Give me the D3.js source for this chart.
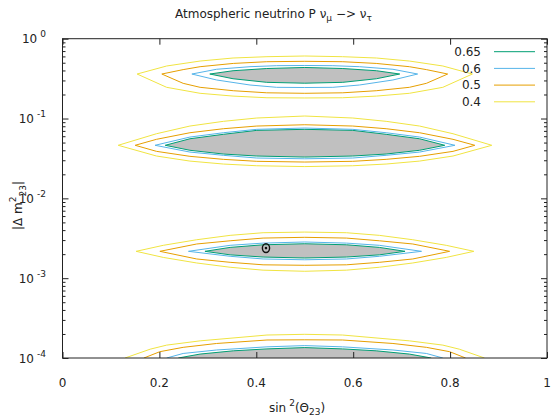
<!DOCTYPE html>
<html>
<head>
<meta charset="utf-8">
<title>Atmospheric neutrino P</title>
<script src="https://cdn.jsdelivr.net/npm/d3@7"></script>
<style>
body { margin: 0; background: #fff; }
svg { display: block; font-family: "DejaVu Sans", sans-serif; }
.axis path { display: none; }
.axis line { stroke: #222; }
</style>
</head>
<body>
<script>

// contour levels, as in the key
var levels = [0.65, 0.6, 0.5, 0.4];

// x ticks (sin^2 theta23) and y decades (|dm^2_23|)
var xTicks = [0, 0.2, 0.4, 0.6, 0.8, 1];
var xTickLabels = ["0", "0.2", "0.4", "0.6", "0.8", "1"];
var yTicks = [1e-4, 1e-3, 1e-2, 1e-1, 1];
var yTickExp = ["-4", "-3", "-2", "-1", "0"];

// contours: s = sin^2, upper / lower = dm^2 on each edge
var band1 = [
  {level: 0.65, s: [0.304, 0.352, 0.4215, 0.5, 0.5785, 0.648, 0.696],
   upper: [0.361, 0.397, 0.423, 0.436, 0.423, 0.397, 0.361],
   lower: [0.361, 0.315, 0.284, 0.277, 0.284, 0.315, 0.361]},
  {level: 0.6, s: [0.267, 0.318, 0.387, 0.442, 0.5, 0.558, 0.613, 0.682, 0.733],
   upper: [0.361, 0.414, 0.446, 0.459, 0.462, 0.459, 0.446, 0.414, 0.361],
   lower: [0.361, 0.304, 0.263, 0.246, 0.2445, 0.246, 0.263, 0.304, 0.361]},
  {level: 0.5, s: [0.205, 0.249, 0.284, 0.3525, 0.4215, 0.5, 0.5785, 0.6475, 0.716, 0.751, 0.795],
   upper: [0.361, 0.41, 0.446, 0.49, 0.515, 0.521, 0.515, 0.49, 0.446, 0.41, 0.361],
   lower: [0.361, 0.276, 0.246, 0.223, 0.21, 0.207, 0.21, 0.223, 0.246, 0.276, 0.361]},
  {level: 0.4, s: [0.154, 0.215, 0.284, 0.352, 0.422, 0.5, 0.578, 0.648, 0.716, 0.785, 0.846],
   upper: [0.361, 0.455, 0.525, 0.573, 0.595, 0.607, 0.595, 0.573, 0.525, 0.455, 0.361],
   lower: [0.361, 0.246, 0.207, 0.191, 0.182, 0.181, 0.182, 0.191, 0.207, 0.246, 0.361]}
];

var band2 = [
  {level: 0.65, s: [0.212, 0.263, 0.332, 0.401, 0.5, 0.599, 0.668, 0.737, 0.789],
   upper: [0.0462, 0.0558, 0.0634, 0.0711, 0.0732, 0.0711, 0.0634, 0.0558, 0.0462],
   lower: [0.0462, 0.040, 0.0359, 0.0339, 0.0329, 0.0339, 0.0359, 0.040, 0.0462]},
  {level: 0.6, s: [0.191, 0.263, 0.332, 0.401, 0.5, 0.599, 0.668, 0.737, 0.81],
   upper: [0.0462, 0.0586, 0.0664, 0.0732, 0.076, 0.0732, 0.0664, 0.0586, 0.0462],
   lower: [0.0462, 0.038, 0.0346, 0.032, 0.0313, 0.032, 0.0346, 0.038, 0.0462]},
  {level: 0.5, s: [0.15, 0.194, 0.263, 0.332, 0.401, 0.5, 0.599, 0.668, 0.737, 0.806, 0.851],
   upper: [0.0462, 0.0549, 0.0664, 0.0745, 0.0805, 0.0836, 0.0805, 0.0745, 0.0664, 0.0549, 0.0462],
   lower: [0.0462, 0.0388, 0.0336, 0.0308, 0.0291, 0.0285, 0.0291, 0.0308, 0.0336, 0.0388, 0.0462]},
  {level: 0.4, s: [0.115, 0.194, 0.263, 0.332, 0.401, 0.5, 0.599, 0.668, 0.737, 0.806, 0.886],
   upper: [0.0462, 0.0645, 0.0805, 0.0922, 0.1015, 0.1075, 0.1015, 0.0922, 0.0805, 0.0645, 0.0462],
   lower: [0.0462, 0.0339, 0.0293, 0.0269, 0.0256, 0.0250, 0.0256, 0.0269, 0.0293, 0.0339, 0.0462]}
];

var band3 = [
  {level: 0.65, s: [0.294, 0.346, 0.414, 0.5, 0.586, 0.654, 0.707],
   upper: [0.00217, 0.00243, 0.00262, 0.0027, 0.00262, 0.00243, 0.00217],
   lower: [0.00217, 0.00196, 0.00184, 0.00179, 0.00184, 0.00196, 0.00217]},
  {level: 0.6, s: [0.26, 0.346, 0.414, 0.5, 0.586, 0.654, 0.741],
   upper: [0.00217, 0.00258, 0.00275, 0.00284, 0.00275, 0.00258, 0.00217],
   lower: [0.00217, 0.00188, 0.00174, 0.0017, 0.00174, 0.00188, 0.00217]},
  {level: 0.5, s: [0.201, 0.277, 0.346, 0.414, 0.5, 0.586, 0.654, 0.723, 0.799],
   upper: [0.00217, 0.00268, 0.00294, 0.00318, 0.00325, 0.00318, 0.00294, 0.00268, 0.00217],
   lower: [0.00217, 0.00174, 0.00158, 0.00147, 0.00145, 0.00147, 0.00158, 0.00174, 0.00217]},
  {level: 0.4, s: [0.152, 0.208, 0.277, 0.346, 0.414, 0.5, 0.586, 0.654, 0.723, 0.792, 0.849],
   upper: [0.00217, 0.00258, 0.00303, 0.00344, 0.00371, 0.00378, 0.00371, 0.00344, 0.00303, 0.00258, 0.00217],
   lower: [0.00217, 0.00182, 0.00155, 0.00137, 0.00126, 0.00122, 0.00126, 0.00137, 0.00155, 0.00182, 0.00217]}
];

// bottom band is cut by the x axis, only its upper edge shows
var band4 = [
  {level: 0.65, s: [0.239, 0.284, 0.3525, 0.422, 0.5, 0.578, 0.6475, 0.716, 0.761],
   upper: [1e-4, 1.12e-4, 1.23e-4, 1.3e-4, 1.35e-4, 1.3e-4, 1.23e-4, 1.12e-4, 1e-4], lower: null},
  {level: 0.6, s: [0.215, 0.249, 0.318, 0.422, 0.5, 0.578, 0.682, 0.751, 0.785],
   upper: [1e-4, 1.14e-4, 1.26e-4, 1.38e-4, 1.43e-4, 1.38e-4, 1.26e-4, 1.14e-4, 1e-4], lower: null},
  {level: 0.5, s: [0.168, 0.201, 0.249, 0.318, 0.422, 0.5, 0.578, 0.682, 0.751, 0.799, 0.832],
   upper: [1e-4, 1.2e-4, 1.36e-4, 1.52e-4, 1.68e-4, 1.69e-4, 1.68e-4, 1.52e-4, 1.36e-4, 1.2e-4, 1e-4], lower: null},
  {level: 0.4, s: [0.129, 0.181, 0.215, 0.284, 0.422, 0.5, 0.578, 0.716, 0.785, 0.819, 0.871],
   upper: [1e-4, 1.29e-4, 1.45e-4, 1.64e-4, 1.94e-4, 1.98e-4, 1.94e-4, 1.64e-4, 1.45e-4, 1.29e-4, 1e-4], lower: null}
];

// best fit point
var bestFit = [0.42, 0.00238];

var width = 551, height = 416;
var plotLeft = 62.5, plotRight = 547, plotTop = 38.7, plotBottom = 358;

var color = d3.scaleOrdinal()
  .domain(levels)
  .range(["#009e73", "#56b4e9", "#e69f00", "#f0e442"]);

var x = d3.scaleLinear().domain([0, 1]).range([plotLeft, plotRight]);
var y = d3.scaleLog().domain([1e-4, 1]).range([plotBottom, plotTop]);

var svg = d3.select("body").append("svg")
  .attr("width", width)
  .attr("height", height);

svg.append("defs").append("clipPath").attr("id", "plot")
  .append("rect")
  .attr("x", plotLeft).attr("y", plotTop)
  .attr("width", plotRight - plotLeft).attr("height", plotBottom - plotTop);

var line = d3.line()
  .x(function(d) { return x(d[0]); })
  .y(function(d) { return y(d[1]); });

// turn s/upper/lower into one closed ring of points
function ring(c) {
  var pts = c.s.map(function(s, i) { return [s, c.upper[i]]; });
  if (c.lower) {
    for (var i = c.s.length - 2; i > 0; i--) pts.push([c.s[i], c.lower[i]]);
  }
  return pts;
}

var bands = [band1, band2, band3, band4];
var g = svg.append("g").attr("clip-path", "url(#plot)");

// grey region inside the 0.65 contour
bands.forEach(function(b) {
  var inner = b.filter(function(c) { return c.level == 0.65; })[0];
  g.append("path")
    .attr("d", line(ring(inner)) + "Z")
    .attr("fill", "#c0c0c0")
    .attr("stroke", "none");
});

bands.forEach(function(b) {
  b.forEach(function(c) {
    g.append("path")
      .attr("d", line(ring(c)) + (c.lower ? "Z" : ""))
      .attr("fill", "none")
      .attr("stroke", color(c.level))
      .attr("stroke-width", 1);
  });
});

// best fit marker
var bf = svg.append("g")
  .attr("transform", "translate(" + x(bestFit[0]) + "," + y(bestFit[1]) + ")");
bf.append("ellipse").attr("rx", 3.6).attr("ry", 4.4)
  .attr("fill", "none").attr("stroke", "#111").attr("stroke-width", 1.4);
bf.append("circle").attr("r", 1.3).attr("fill", "#111");

// axes, ticks pointing inwards on all four sides
var yMinor = [];
yTicks.slice(0, -1).forEach(function(t) {
  for (var k = 2; k < 10; k++) yMinor.push(t * k);
});

svg.append("g").attr("class", "axis")
  .attr("transform", "translate(" + plotLeft + ",0)")
  .call(d3.axisLeft(y).tickValues(yTicks).tickSize(-6).tickFormat(""));
svg.append("g").attr("class", "axis")
  .attr("transform", "translate(" + plotLeft + ",0)")
  .call(d3.axisLeft(y).tickValues(yMinor).tickSize(-3).tickFormat(""));
svg.append("g").attr("class", "axis")
  .attr("transform", "translate(" + plotRight + ",0)")
  .call(d3.axisRight(y).tickValues(yTicks).tickSize(-6).tickFormat(""));
svg.append("g").attr("class", "axis")
  .attr("transform", "translate(" + plotRight + ",0)")
  .call(d3.axisRight(y).tickValues(yMinor).tickSize(-3).tickFormat(""));
svg.append("g").attr("class", "axis")
  .attr("transform", "translate(0," + plotBottom + ")")
  .call(d3.axisBottom(x).tickValues(xTicks).tickSize(-6).tickFormat(""));
svg.append("g").attr("class", "axis")
  .attr("transform", "translate(0," + plotTop + ")")
  .call(d3.axisTop(x).tickValues(xTicks).tickSize(-6).tickFormat(""));

svg.append("rect")
  .attr("x", plotLeft).attr("y", plotTop)
  .attr("width", plotRight - plotLeft).attr("height", plotBottom - plotTop)
  .attr("fill", "none").attr("stroke", "#222").attr("stroke-width", 1);

// tick labels
svg.append("g").selectAll("text")
  .data(xTicks)
  .enter().append("text")
  .attr("x", function(d) { return x(d); })
  .attr("y", 386.5)
  .attr("text-anchor", "middle")
  .style("font-size", "12px")
  .attr("fill", "#222")
  .text(function(d, i) { return xTickLabels[i]; });

var yl = svg.append("g").selectAll("text")
  .data(yTicks)
  .enter().append("text")
  .attr("x", 46)
  .attr("y", function(d) { return y(d) + 4.5; })
  .attr("text-anchor", "end")
  .style("font-size", "12px")
  .attr("fill", "#222");
yl.append("tspan").text("10");
yl.append("tspan").attr("dx", 3).attr("dy", -6).style("font-size", "9px")
  .text(function(d, i) { return yTickExp[i]; });

// title
var title = svg.append("text")
  .attr("x", 175).attr("y", 18.3)
  .style("font-size", "12px")
  .attr("fill", "#222");
title.append("tspan").text("Atmospheric neutrino P ν");
title.append("tspan").attr("dy", 3).style("font-size", "9px").text("μ");
title.append("tspan").attr("dy", -3).text(" −> ν");
title.append("tspan").attr("dy", 3).style("font-size", "9px").text("τ");

// x label
var xl = svg.append("text")
  .attr("x", 269).attr("y", 411.5)
  .style("font-size", "12px")
  .attr("fill", "#222");
xl.append("tspan").text("sin");
xl.append("tspan").attr("dx", 3).attr("dy", -6).style("font-size", "9px").text("2");
xl.append("tspan").attr("dy", 6).text("(Θ");
xl.append("tspan").attr("dy", 3).style("font-size", "9px").text("23");
xl.append("tspan").attr("dy", -3).text(")");

// y label
var ylab = svg.append("text")
  .attr("transform", "translate(22,230) rotate(-90)")
  .style("font-size", "12px")
  .attr("fill", "#222");
ylab.append("tspan").text("|Δ m");
ylab.append("tspan").attr("dy", -6).style("font-size", "9px").text("2");
ylab.append("tspan").attr("dy", 10).style("font-size", "9px").text("23");
ylab.append("tspan").attr("dy", -4).text("|");

// key
var key = svg.append("g").selectAll("g")
  .data(levels)
  .enter().append("g")
  .attr("transform", function(d, i) { return "translate(0," + (51.7 + i * 16.7) + ")"; });
key.append("text")
  .attr("x", 481).attr("y", 4.3)
  .attr("text-anchor", "end")
  .style("font-size", "12px")
  .attr("fill", "#222")
  .text(function(d) { return d; });
key.append("line")
  .attr("x1", 494).attr("x2", 535)
  .attr("stroke", function(d) { return color(d); })
  .attr("stroke-width", 1);

</script>
</body>
</html>
